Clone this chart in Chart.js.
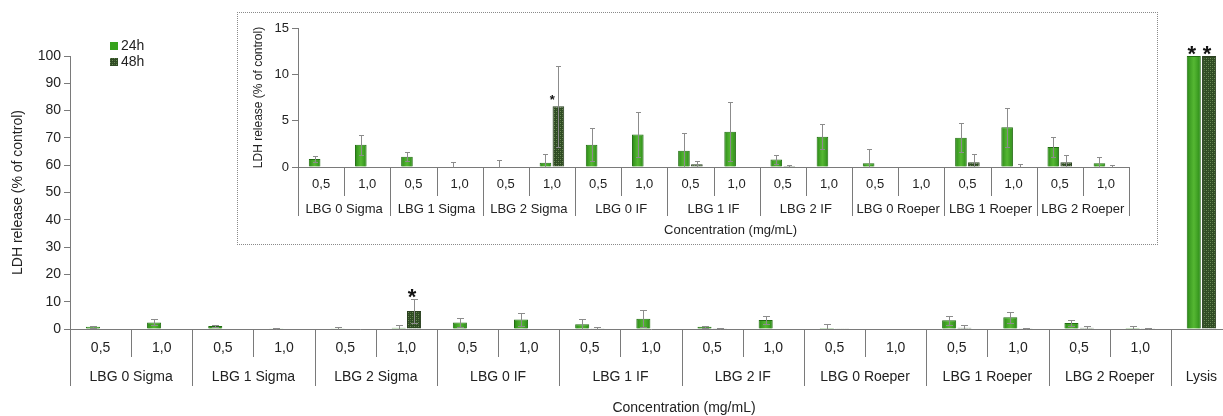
<!DOCTYPE html>
<html>
<head>
<meta charset="utf-8">
<script src="https://cdn.jsdelivr.net/npm/chart.js@4.4.0/dist/chart.umd.min.js"></script>
<style>
  body { margin: 0; width: 1223px; height: 416px; overflow: hidden; background: #fff; }
  #main { position: absolute; left: 0; top: 0; }
  #insetBox { position: absolute; left: 237px; top: 12px; width: 919px; height: 231px;
              border: 1px dotted #8a8a8a; background: #fff; }
</style>
</head>
<body>
<canvas id="main" width="1232" height="416"></canvas>
<div id="insetBox"><canvas id="inset" width="919" height="231"></canvas></div>
<script>
// 데이터
const groups = ['LBG 0 Sigma', 'LBG 1 Sigma', 'LBG 2 Sigma', 'LBG 0 IF', 'LBG 1 IF', 'LBG 2 IF',
                'LBG 0 Roeper', 'LBG 1 Roeper', 'LBG 2 Roeper'];
const concs = ['0,5', '1,0'];
const mean24 = [0.85, 2.4, 1.1, 0.05, 0.05, 0.45, 2.4, 3.5, 1.75, 3.8, 0.8, 3.27, 0.4, 0, 3.16, 4.28, 2.16, 0.4];
const err24  = [0.35, 1.1, 0.5, 0.45, 0.75, 0.9, 1.8, 2.4, 1.95, 3.2, 0.45, 1.37, 1.54, 0, 1.54, 2.08, 1.08, 0.68];
const mean48 = [0, 0, 0, 0, 0, 6.55, 0, 0, 0.3, 0, 0.1, 0, 0.05, 0, 0.5, 0.05, 0.5, 0.05];
const err48  = [0, 0, 0, 0, 0, 4.35, 0, 0, 0.4, 0, 0.1, 0, 0, 0, 0.94, 0.25, 0.76, 0.15];
const lysis24 = [100];
const lysis48 = [100];
const seriesNames = ['24h', '48h'];
const mainTickStep = 10;
const insetTickStep = 5;

const FONT = "'Liberation Sans', Arial, sans-serif";
Chart.defaults.font.family = FONT;
Chart.defaults.color = '#222';

const labels = groups.flatMap(g => concs.map(c => [g, c]));
const mainLabels = labels.concat([['Lysis', '']]);

// 48h 체크무늬 패턴
function checker() {
  const c = document.createElement('canvas');
  c.width = 4; c.height = 4;
  const g = c.getContext('2d');
  g.fillStyle = '#2f4b24';
  g.fillRect(0, 0, 4, 4);
  g.fillStyle = '#6e8c58';
  g.fillRect(0, 0, 1, 1);
  g.fillRect(2, 2, 1, 1);
  g.fillStyle = '#4a6a38';
  g.fillRect(2, 0, 1, 1);
  g.fillRect(0, 2, 1, 1);
  return g.createPattern(c, 'repeat');
}
const pattern48 = checker();
const green24 = '#37a31d';

// 24h 막대 가운데 밝은 줄
const shadePlugin = {
  id: 'shade',
  afterDatasetDraw(chart, args) {
    if (args.index !== 0) return;
    const ctx = chart.ctx;
    ctx.save();
    args.meta.data.forEach(bar => {
      const w = bar.width, h = bar.base - bar.y;
      if (h < 1) return;
      const gr = ctx.createLinearGradient(bar.x - w / 2, 0, bar.x + w / 2, 0);
      gr.addColorStop(0, 'rgba(20,100,10,0.45)');
      gr.addColorStop(0.5, 'rgba(140,220,90,0.35)');
      gr.addColorStop(1, 'rgba(20,100,10,0.45)');
      ctx.fillStyle = gr;
      ctx.fillRect(bar.x - w / 2 + 1, bar.y + 1, w - 2, h - 1);
    });
    ctx.restore();
  }
};

// 오차 막대
const errPlugin = {
  id: 'errbars',
  afterDatasetsDraw(chart, args, o) {
    const ctx = chart.ctx, ys = chart.scales.y;
    ctx.save();
    ctx.strokeStyle = o.color;
    ctx.lineWidth = 1;
    o.errs.forEach((errs, di) => {
      const meta = chart.getDatasetMeta(di);
      meta.data.forEach((bar, i) => {
        const e = errs[i];
        const m = chart.data.datasets[di].data[i];
        if (!e) return;
        const x = Math.round(bar.x) + 0.5;
        const yt = Math.round(ys.getPixelForValue(m + e)) + 0.5;
        const lo = Math.max(0, m - e);
        const yb = Math.round(ys.getPixelForValue(lo)) + 0.5;
        ctx.beginPath();
        ctx.moveTo(x, yt); ctx.lineTo(x, yb);
        ctx.moveTo(x - o.cap, yt); ctx.lineTo(x + o.cap, yt);
        if (lo > 0) { ctx.moveTo(x - o.cap, yb); ctx.lineTo(x + o.cap, yb); }
        ctx.stroke();
      });
    });
    ctx.restore();
  }
};

// 별표
const starPlugin = {
  id: 'stars',
  afterDatasetsDraw(chart, args, o) {
    const ctx = chart.ctx, ys = chart.scales.y;
    ctx.save();
    ctx.fillStyle = '#111';
    ctx.font = 'bold ' + o.size + 'px ' + FONT;
    ctx.textAlign = 'center';
    ctx.textBaseline = 'alphabetic';
    o.marks.forEach(([di, i]) => {
      const bar = chart.getDatasetMeta(di).data[i];
      const m = chart.data.datasets[di].data[i];
      const e = o.errs[di][i] || 0;
      const top = o.onErr ? ys.getPixelForValue(m + e) : bar.y;
      ctx.fillText('*', bar.x + o.dx, top + o.dy);
    });
    ctx.restore();
  }
};

// 2단 x축 라벨
const xLabelPlugin = {
  id: 'xlabels',
  afterDraw(chart, args, o) {
    const ctx = chart.ctx, xs = chart.scales.x, lab = chart.data.labels, n = lab.length;
    const half = (xs.getPixelForValue(1) - xs.getPixelForValue(0)) / 2;
    const base = chart.chartArea.bottom;
    ctx.save();
    ctx.strokeStyle = '#7a7a7a';
    ctx.lineWidth = 1;
    for (let i = 0; i <= n; i++) {
      const x = Math.round(xs.getPixelForValue(i) - half) + 0.5;
      const long = i === n || i === 0 || lab[i][0] !== lab[i - 1][0];
      ctx.beginPath();
      ctx.moveTo(x, base);
      ctx.lineTo(x, long ? o.groupEnd : o.subEnd);
      ctx.stroke();
    }
    ctx.fillStyle = '#222';
    ctx.font = o.size + 'px ' + FONT;
    ctx.textAlign = 'center';
    ctx.textBaseline = 'middle';
    let start = 0;
    for (let i = 0; i < n; i++) {
      if (lab[i][1]) ctx.fillText(lab[i][1], xs.getPixelForValue(i), o.subY);
      if (i === n - 1 || lab[i + 1][0] !== lab[i][0]) {
        const cx = (xs.getPixelForValue(start) + xs.getPixelForValue(i)) / 2;
        ctx.fillText(lab[i][0], cx, o.groupY);
        start = i + 1;
      }
    }
    const ca = chart.chartArea;
    ctx.fillText(o.title, (ca.left + ca.right) / 2 + o.titleDx, o.titleY);
    ctx.restore();
  }
};

// 범례
const legendPlugin = {
  id: 'miniLegend',
  afterDraw(chart, args, o) {
    const ctx = chart.ctx;
    ctx.save();
    ctx.font = '14px ' + FONT;
    ctx.textBaseline = 'middle';
    chart.data.datasets.forEach((ds, i) => {
      const y = o.y + i * o.gap;
      ctx.fillStyle = ds.backgroundColor;
      ctx.fillRect(o.x, y - 4, 8, 8);
      ctx.fillStyle = '#222';
      ctx.fillText(ds.label, o.x + 11, y);
    });
    ctx.restore();
  }
};

function makeChart(id, cfg) {
  const ds = [
    { label: seriesNames[0], data: cfg.d24, backgroundColor: green24, borderColor: '#226d12', borderWidth: 1 },
    { label: seriesNames[1], data: cfg.d48, backgroundColor: pattern48, borderColor: '#2a3f20', borderWidth: 1 }
  ];
  return new Chart(document.getElementById(id), {
    type: 'bar',
    data: { labels: cfg.labels, datasets: ds },
    options: {
      responsive: false,
      animation: false,
      events: [],
      layout: { padding: cfg.pad },
      categoryPercentage: cfg.catPct,
      barPercentage: cfg.barPct,
      scales: {
        x: {
          ticks: { display: false },
          grid: { display: false },
          border: { color: '#7a7a7a' },
          afterFit(s) { s.height = 0; }
        },
        y: {
          min: 0, max: cfg.max,
          ticks: { stepSize: cfg.step, font: { size: cfg.tick }, color: '#222', padding: 3 },
          grid: { drawOnChartArea: false, tickLength: 6, color: '#7a7a7a' },
          border: { color: '#7a7a7a' },
          title: { display: true, text: 'LDH release (% of control)', font: { size: cfg.titleSize },
                   color: '#222', padding: { top: cfg.titlePad, bottom: 0 } },
          afterFit(s) { s.width = cfg.yw; }
        }
      },
      plugins: {
        legend: { display: false },
        tooltip: { enabled: false },
        errbars: { errs: cfg.errs, cap: cfg.cap, color: '#8c8c8c' },
        stars: cfg.stars,
        xlabels: cfg.xl,
        miniLegend: cfg.legend
      }
    },
    plugins: cfg.legend ? [shadePlugin, errPlugin, starPlugin, xLabelPlugin, legendPlugin]
                        : [shadePlugin, errPlugin, starPlugin, xLabelPlugin]
  });
}

const mainErr = [err24.concat([0]), err48.concat([0])];
makeChart('main', {
  labels: mainLabels,
  d24: mean24.concat(lysis24),
  d48: mean48.concat(lysis48),
  errs: mainErr,
  pad: { left: 0, right: 0, top: 56, bottom: 87 },
  catPct: 0.5, barPct: 0.92,
  max: 100, step: mainTickStep, tick: 14, titleSize: 14, yw: 70, titlePad: 10, cap: 3.5,
  stars: { marks: [[1, 5], [0, 18], [1, 18]], errs: mainErr, size: 22, dx: -2, dy: 5, onErr: true },
  xl: { subY: 348, groupY: 377, subEnd: 357, groupEnd: 386, size: 14,
        title: 'Concentration (mg/mL)', titleY: 408, titleDx: 33 },
  legend: { x: 110, y: 46, gap: 16 }
});

const insetErr = [err24, err48];
makeChart('inset', {
  labels: labels,
  d24: mean24,
  d48: mean48,
  errs: insetErr,
  pad: { left: 0, right: 28, top: 15, bottom: 77 },
  catPct: 0.56, barPct: 0.9,
  max: 15, step: insetTickStep, tick: 13, titleSize: 12, yw: 60, titlePad: 13, cap: 2.5,
  stars: { marks: [[1, 5]], errs: insetErr, size: 13, dx: -6, dy: -2, onErr: false },
  xl: { subY: 171, groupY: 196, subEnd: 183, groupEnd: 203, size: 13,
        title: 'Concentration (mg/mL)', titleY: 217, titleDx: 17 },
  legend: null
});
</script>
</body>
</html>
